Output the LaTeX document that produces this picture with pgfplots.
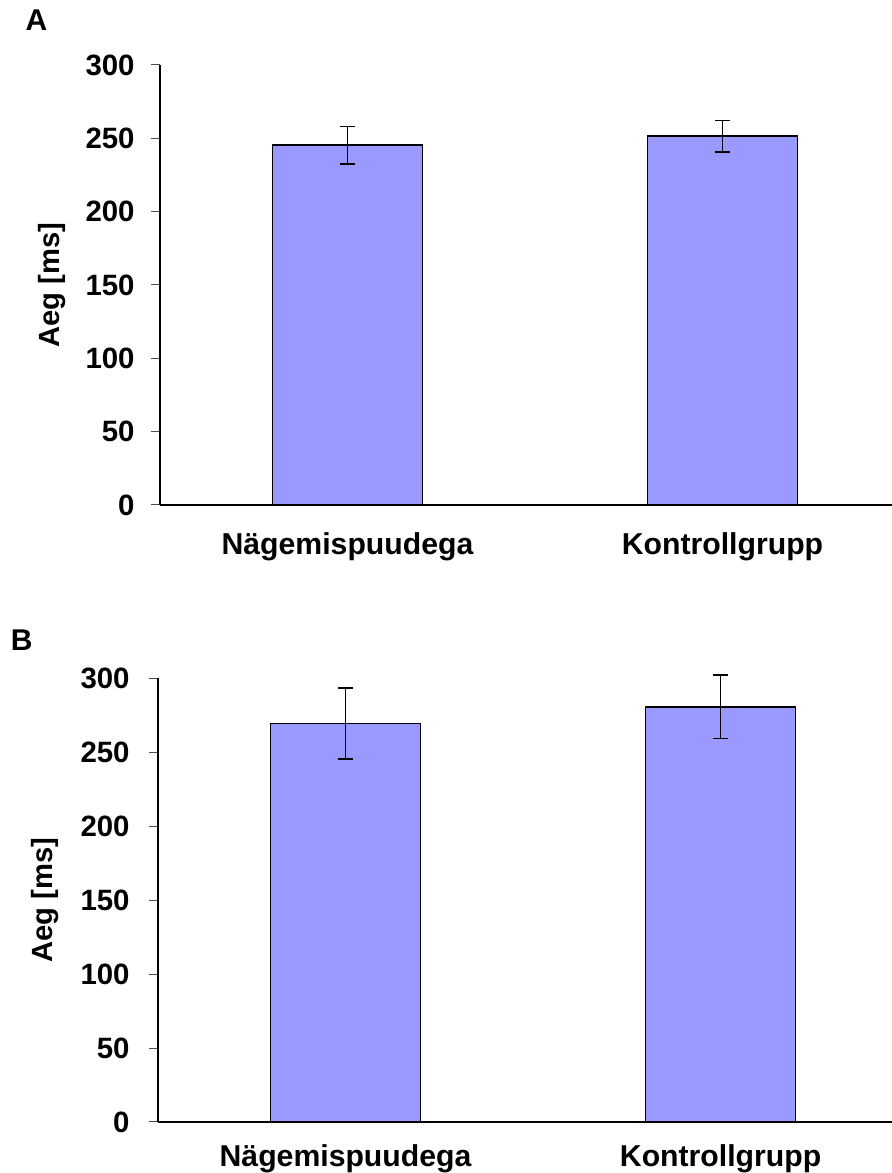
\documentclass[border=0pt]{standalone}
\usepackage{fontspec}
\setmainfont{Liberation Sans}
\usepackage{pgfplots}
\pgfplotsset{compat=1.18}
\definecolor{barfill}{RGB}{153,153,255}
\pgfplotsset{
  panel/.style={
    scale only axis,
    axis x line=bottom, axis y line=left,
    axis line style={-, black},
    x axis line style={line width=0.9pt},
    y axis line style={line width=0.6pt},
    xmin=-0.5, ymin=0, ymax=300,
    ytick={0,50,100,150,200,250,300},
    xtick={0,1},
    xticklabels={N\"agemispuudega, Kontrollgrupp},
    tick align=outside,
    major tick length=4.5pt,
    ytick style={line width=0.5pt, black!70},
    xtick style={draw=none},
    yticklabel style={font=\fontsize{14.7}{17}\selectfont\bfseries},
    xticklabel style={font=\fontsize{15.1}{17}\selectfont\bfseries},
    /pgf/number format/assume math mode=true,
    yticklabel style={anchor=east, inner sep=0pt},
    xticklabel style={anchor=north, inner sep=0pt},
    label style={font=\fontsize{14.6}{17}\selectfont\bfseries},
    ylabel={Aeg [ms]},
    clip=false,
  },
  bars/.style={
    ybar, bar width=75pt, fill=barfill, draw=black, line width=0.85pt,
    error bars/.cd, y dir=both, y explicit,
    error bar style={line width=0.75pt, black},
    error mark options={rotate=90, mark size=3.75pt, line width=0.75pt, black},
  },
}
\begin{document}
\begin{tikzpicture}
\useasboundingbox (0,0) rectangle (446pt,586.5pt);
% Panel A
\begin{axis}[panel,
  at={(80pt,334pt)}, anchor=south west,
  width=366pt, height=220pt, xmax=1.452,
  yticklabel style={xshift=-8pt},
  xticklabel style={yshift=-9pt},
  ylabel style={at={(axis description cs:-0.1475,0.5)}, anchor=center},
]
\addplot[bars] coordinates {(0,245.3) +- (0,12.8) (1,251.5) +- (0,10.7)};
\end{axis}
% Panel B
\begin{axis}[panel,
  at={(79pt,25.5pt)}, anchor=south west,
  width=367pt, height=221.85pt, xmax=1.457,
  yticklabel style={xshift=-9.5pt},
  xticklabel style={yshift=-6.5pt},
  ylabel style={at={(axis description cs:-0.154,0.5)}, anchor=center},
]
\addplot[bars] coordinates {(0,269.4) +- (0,24.0) (1,280.7) +- (0,21.5)};
\end{axis}
\node[font=\fontsize{15}{17}\selectfont\bfseries] at (18.2pt,576.5pt) {A};
\node[font=\fontsize{15}{17}\selectfont\bfseries] at (10.9pt,266.5pt) {B};
\end{tikzpicture}
\end{document}
